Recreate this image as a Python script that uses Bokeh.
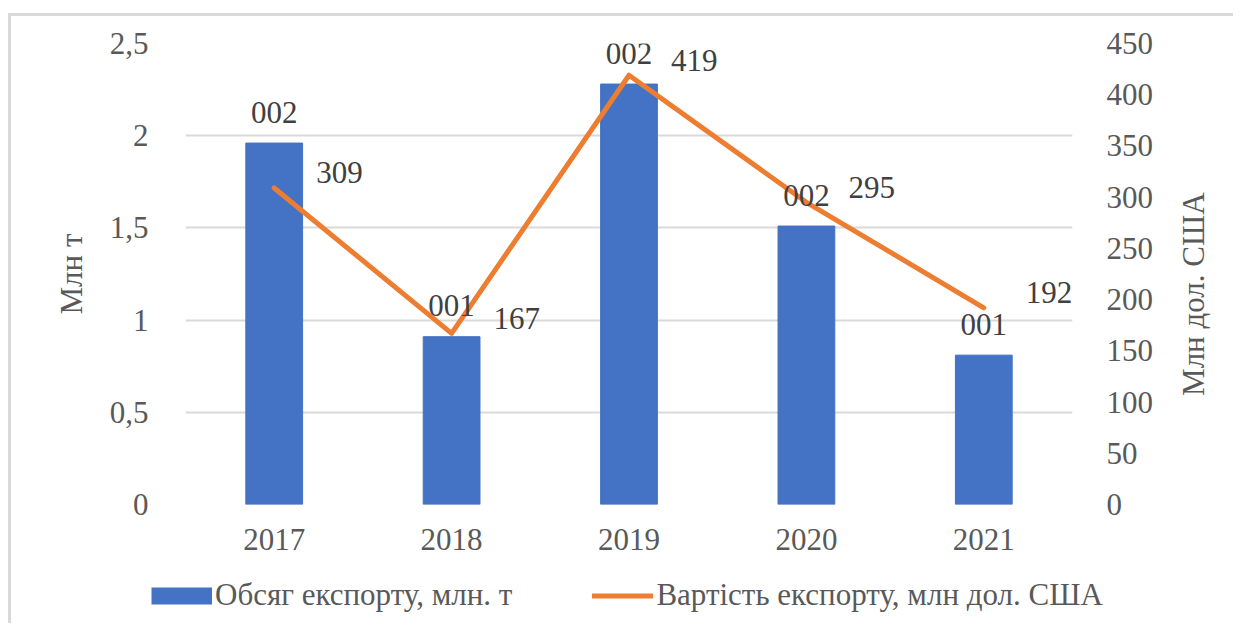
import math
from bokeh.plotting import figure
from bokeh.models import (ColumnDataSource, Range1d, LinearAxis, FactorRange, FixedTicker,
                          Legend, LegendItem)
from bokeh.embed import file_html
from bokeh.resources import INLINE
from bokeh.core.properties import value

# ---- data ----
years = ["2017", "2018", "2019", "2020", "2021"]
volume_mt = [1.96, 0.91, 2.28, 1.51, 0.81]
volume_labels = ["002", "001", "002", "002", "001"]
value_musd = [309, 167, 419, 295, 192]
value_labels = ["309", "167", "419", "295", "192"]
left_ticks = [0, 0.5, 1, 1.5, 2, 2.5]
left_tick_labels = ["0", "0,5", "1", "1,5", "2", "2,5"]
right_ticks = [0, 50, 100, 150, 200, 250, 300, 350, 400, 450]
right_tick_labels = ["0", "50", "100", "150", "200", "250", "300", "350", "400", "450"]
series_names = ["Обсяг експорту, млн. т", "Вартість експорту, млн дол. США"]
left_title = "Млн т"
right_title = "Млн дол. США"

# ---- style ----
FONT = "Liberation Serif"
FS = "31px"
GRAY = "#595959"
DARK = "#404040"
BLUE = "#4472C4"
ORANGE = "#ED7D31"
GRID = "#d9d9d9"
RIGHT_MAX = 450
RIGHT_TITLE_START = 106  # where the rotated right-hand title begins (right-axis units)

src = ColumnDataSource(dict(year=years, vol=volume_mt, vlab=volume_labels,
                            usd=value_musd, ulab=value_labels))

p = figure(x_range=FactorRange(*years), y_range=Range1d(0, 2.5),
           width=1225, height=550, output_backend="svg", toolbar_location=None,
           min_border_left=174, min_border_right=164, min_border_top=27, min_border_bottom=62)
p.outline_line_color = None
p.background_fill_color = "white"
p.border_fill_color = "white"
p.styles = {"border-top": "3px solid #d9d9d9", "border-left": "3px solid #d9d9d9",
            "margin-top": "13px", "margin-left": "8px"}

p.extra_y_ranges = {"usd": Range1d(0, RIGHT_MAX)}
raxis = LinearAxis(y_range_name="usd")
p.add_layout(raxis, "right")
# right-hand title drawn as a rotated label of a tick-less axis (reads bottom-to-top)
taxis = LinearAxis(y_range_name="usd", ticker=FixedTicker(ticks=[RIGHT_TITLE_START]),
                   major_label_overrides={RIGHT_TITLE_START: right_title},
                   major_label_orientation=math.pi / 2)
p.add_layout(taxis, "right")

p.yaxis[0].ticker = FixedTicker(ticks=left_ticks)
p.yaxis[0].major_label_overrides = dict(zip(left_ticks, left_tick_labels))
raxis.ticker = FixedTicker(ticks=right_ticks)
raxis.major_label_overrides = dict(zip(right_ticks, right_tick_labels))

p.yaxis[0].axis_label = left_title

for ax in [p.xaxis[0], p.yaxis[0], raxis, taxis]:
    ax.axis_line_color = None
    ax.major_tick_line_color = None
    ax.minor_tick_line_color = None
    ax.major_tick_out = 0
    ax.major_tick_in = 0
    ax.major_label_text_font = FONT
    ax.major_label_text_font_size = FS
    ax.major_label_text_color = GRAY
    ax.axis_label_text_font = FONT
    ax.axis_label_text_font_size = FS
    ax.axis_label_text_color = GRAY
    ax.axis_label_text_font_style = "normal"

p.xaxis[0].major_label_standoff = 24
p.yaxis[0].major_label_standoff = 37
raxis.major_label_standoff = 34
p.yaxis[0].axis_label_standoff = 18
taxis.major_label_standoff = 37

p.xgrid.visible = False
p.ygrid.ticker = FixedTicker(ticks=left_ticks)
p.ygrid.grid_line_color = GRID
p.ygrid.grid_line_width = 2

bars = p.vbar(x="year", top="vol", width=0.32, source=src, fill_color=BLUE, line_color=BLUE)
line = p.line(x="year", y="usd", y_range_name="usd", source=src, line_color=ORANGE,
              line_width=5, line_join="round", line_cap="round")

p.text(x="year", y="vol", text="vlab", source=src, text_align="center",
       text_baseline="alphabetic", y_offset=-31, text_font=value(FONT),
       text_font_size=FS, text_color=DARK)
p.text(x="year", y="usd", text="ulab", source=src, y_range_name="usd", text_align="left",
       text_baseline="alphabetic", x_offset=42, y_offset=-15, text_font=value(FONT),
       text_font_size=FS, text_color=DARK)

# ---- legend strip (own small figure under the chart) ----
lf = figure(x_range=FactorRange(*years), y_range=Range1d(1000, 1001), width=1225, height=60,
            output_backend="svg", toolbar_location=None,
            min_border_left=0, min_border_right=0, min_border_top=0, min_border_bottom=0)
lf.axis.visible = False
lf.grid.visible = False
lf.outline_line_color = None
lf.border_fill_color = "white"
lf.styles = {"border-left": "3px solid #d9d9d9", "margin-left": "8px"}
sw_bar = lf.line(x="year", y="vol", source=src, line_color=BLUE, line_width=17,
                 line_cap="butt", visible=False)
sw_line = lf.line(x="year", y="usd", source=src, line_color=ORANGE, line_width=5,
                  line_cap="round", visible=False)
legend = Legend(items=[LegendItem(label=series_names[0], renderers=[sw_bar]),
                       LegendItem(label=series_names[1], renderers=[sw_line])],
                orientation="horizontal", location=(140, 10), padding=0, margin=0,
                border_line_color=None, background_fill_alpha=0, inactive_fill_alpha=0,
                label_text_font=FONT, label_text_font_size=FS, label_text_color=GRAY,
                spacing=80, glyph_width=61, glyph_height=21, label_standoff=3)
lf.add_layout(legend)

open("out.html", "w").write(file_html([p, lf], INLINE))
